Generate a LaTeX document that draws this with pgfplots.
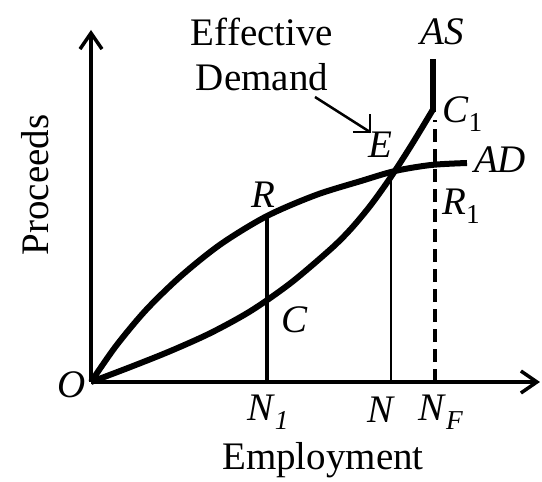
\documentclass[border=0pt]{standalone}
\usepackage{pgfplots}
\pgfplotsset{compat=1.18}
\usetikzlibrary{arrows.meta}
\usepackage{fontspec}
\setmainfont{Liberation Serif}
\begin{document}
\begin{tikzpicture}
\useasboundingbox (-91pt,-100pt) rectangle (451pt,382pt);
\fontsize{39}{44}\selectfont
\begin{axis}[
  at={(0pt,0pt)}, anchor=south west,
  scale only axis, width=449pt, height=352pt,
  xmin=0, xmax=449, ymin=0, ymax=352,
  axis lines=left, ticks=none, clip=false,
  axis line style={line width=3.8pt, -{Straight Barb[length=16pt,width=22pt,line width=3.5pt]}},
]
% AD curve
\addplot[line width=6pt, smooth, tension=0.5] coordinates {
(0,0) (25,36) (55,72) (90,106) (130,138) (176,166) (225,187) (270,201) (304,211) (340,217) (376,219)};
% AS curve
\addplot[line width=6pt, smooth, tension=0.5] coordinates {
(0,0) (40,15.2) (80,31.2) (120,49.2) (160,71.2) (200,99.2) (240,133.2) (260,153.2) (280,177.2) (300,205.2) (320,236.2) (342,272.5)};
\addplot[line width=6pt] coordinates {(342,270) (342,323)};
% verticals
\addplot[line width=3.5pt] coordinates {(176,0) (176,166)};
\addplot[line width=2pt] coordinates {(300,0) (300,210)};
\addplot[line width=4pt, dash pattern=on 13pt off 7pt] coordinates {(344,0) (344,262)};
% effective demand pointer
\addplot[line width=2.5pt] coordinates {(224,285) (279,250)};
\addplot[line width=2.5pt] coordinates {(262,250) (279,250) (279,268)};
% labels
\node[rotate=90] at (axis cs:-56,197) {Proceeds};
\node at (axis cs:-19,-3) {\textit{O}};
\node at (axis cs:177,-30) {\textit{N}\textsubscript{\textit{1}}};
\node at (axis cs:290,-28) {\textit{N}};
\node at (axis cs:350,-30) {\textit{N}\textsubscript{\textit{F}}};
\node at (axis cs:232,-78) {Employment};
\node at (axis cs:171,350) {Effective};
\node at (axis cs:171,305) {Demand};
\node at (axis cs:351,350) {\textit{AS}};
\node[anchor=west, inner sep=0pt] at (axis cs:351,268) {\textit{C}\textsubscript{1}};
\node at (axis cs:289,237) {\textit{E}};
\node at (axis cs:409,222) {\textit{AD}};
\node[anchor=west, inner sep=0pt] at (axis cs:351,176) {\textit{R}\textsubscript{1}};
\node at (axis cs:172,187) {\textit{R}};
\node at (axis cs:204,62) {\textit{C}};
\end{axis}
\end{tikzpicture}
\end{document}
